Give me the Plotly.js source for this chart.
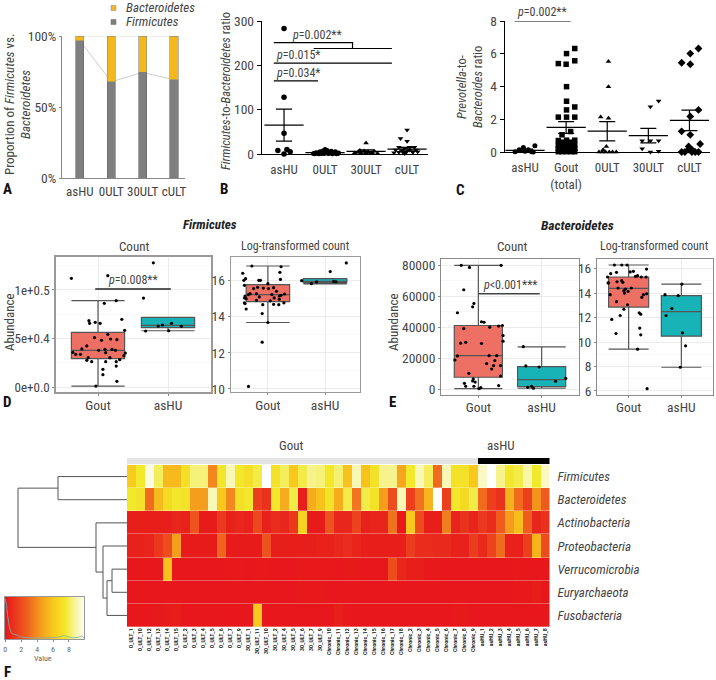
<!DOCTYPE html>
<html><head><meta charset="utf-8">
<script src="https://cdn.plot.ly/plotly-3.0.1.min.js"></script>
<style>html,body{margin:0;padding:0;background:#fff}</style></head>
<body><div id="chart" style="width:716px;height:680px"></div>
<script>
const FONT='"Roboto Condensed","Liberation Sans",sans-serif';
// Panel A
const phylaCats=['asHU','0ULT','30ULT','cULT'];
const firmicutesShare=[96.7,67.8,74.3,69.2];
const bacteroidetesShare=[3.3,32.2,25.7,30.8];
const topLine=[100,100,100,100];
// Panel B
const bCats=['asHU','0ULT','30ULT','cULT'];
const bMean=[65,3,6,11];
const bSem=[36,2,3.5,4];
const bAsHU_x=[0,0,0,-0.15,0.0,0.07,0.15];
const bAsHU_y=[283,128,47,8,0,10,5];
const b0_x=[0.72,0.78,0.82,0.88,0.92,0.95,1,1.02,1.05,1.1,1.15,1.2,1.25,1.3,1.33,0.75,0.85,0.98,1.08,1.18,1.28];
const b0_y=[1,3,2,5,1,7,10,4,8,2,6,3,5,1,2,0.5,0.5,1,1,0.5,0.5];
const b30_x=[2.0,1.72,1.8,1.88,1.95,2.05,2.12,2.2,2.28,1.85,2.0,2.15];
const b30_y=[25,2,4,1,7,5,2,6,1,8,2,3];
const bC_x=[3,2.84,3,2.8,3.18,3.06,2.94,2.72,3.22,2.88,3.06,2.8,2.9,2.98,3.14,3.26,2.68,2.94];
const bC_y=[54,35,29,15,15,15,13,9,9,9,9,4,4,4,4,5,3,1];
// Panel C
const cCats=['asHU','Gout<br>(total)','0ULT','30ULT','cULT'];
const cMean=[0.1,1.5,1.27,1.0,1.93];
const cSem=[0.07,0.36,0.59,0.44,0.63];
const cAsHU_x=[0.24,-0.04,-0.14,0.08,0,-0.24,0.16,0.2];
const cAsHU_y=[0.38,0.28,0.14,0.14,0.04,0.02,0.02,0];
const cGout_x=[1.21,1.01,0.81,1,1.21,1.01,1.01,1.01,1.21,0.81,1.01,1.21,0.9,1.11,0.81,0.9,1.01,1.12,1.21,0.81,0.9,1.01,1.12,1.21,0.81,0.9,1.01,1.12,1.21,0.81,0.9,1.01,1.12,1.21];
const cGout_y=[6.32,6.01,5.4,5.36,5.57,3.99,3.1,2.57,2.75,2.13,2.13,2.13,1.05,1.25,0.02,0.02,0.02,0.02,0.02,0.2,0.2,0.2,0.2,0.2,0.42,0.42,0.42,0.42,0.42,0.7,0.6,0.72,0.6,0.72];
const c0_x=[2.03,2.03,1.84,2.03,1.98,1.8,1.88,1.96,2.05,2.13,2.22,1.9];
const c0_y=[5.53,3.99,2.13,2.06,0.34,0,0,0,0,0,0,0.14];
const c30_x=[3.25,3.05,2.85,3.05,3.25,2.85,3.05,3.25];
const c30_y=[3.12,2.77,0.69,0.69,0.69,0.2,0,0.04];
const cC_x=[4.22,4.02,3.81,4.02,4.22,4.02,3.81,4.02,4.26,3.98,3.81,3.89,3.98,4.06,4.14,4.22,4.06];
const cC_y=[6.32,6.01,5.45,5.36,2.57,2.17,1.26,1.05,0.49,0.34,0,0,0.14,0.14,0,0,0];
// Panel D count
const dcGout_x=[-.38,.14,.09,.26,-.13,-.12,-.04,.03,.34,.38,.14,-.05,.05,.18,.27,-.16,-.23,-.36,-.32,-.25,.01,.1,.11,.2,.25,.39,.37,-.14,-.16,-.09,.11,.17,.26,.31,.26,.07,.07,.27,-.03];
const dcGout_y=[112000,114800,86200,89000,68400,65600,66700,65600,69800,58400,54300,50900,48100,49500,48800,42300,39200,35700,33700,33700,37800,38800,35400,38800,37800,35000,32300,30200,27500,26100,26100,30200,26100,28200,21600,18200,12700,5800,1000];
const dcHU_x=[.79,.65,.68,.86,.92,1.05,1.19,1.01];
const dcHU_y=[128000,91700,57700,62900,63900,65600,62500,58000];
// Panel D log
const dlGout_x=[-.28,.23,-.44,.21,.22,-.39,-.42,-.16,-.13,-.41,0,-.18,-.25,-.08,.01,.1,.15,-.31,-.2,-.4,-.41,-.34,-.15,.07,.11,.2,.29,.23,-.38,-.2,.2,.04,-.41,.28,-.4,-.09,.1,.19,-.38,-.1,0,-.1,-.34];
const dlGout_y=[16.81,16.77,16.41,16.46,16.07,16.11,16.02,16.02,16.02,15.74,15.83,15.63,15.56,15.59,15.56,15.61,15.41,15.28,15.28,15.15,15.04,15.23,15.1,15.23,15.04,15.15,15.26,15.19,15,14.91,14.97,14.88,14.77,14.77,14.73,14.67,14.69,14.67,14.43,14.18,13.68,12.59,10.14];
const dlHU_x=[1.37,1.09,.59,.76,.85,1.15,1.19];
const dlHU_y=[16.98,16.5,16,15.83,15.93,15.96,15.94];
// Panel E count
const ecGout_x=[-.27,-.14,.36,-.23,-.07,-.09,-.33,.05,.09,.18,.32,.38,-.23,.39,.39,-.28,-.2,.05,-.33,-.37,.17,.29,.26,.13,.24,.21,.35,-.15,.35,-.08,-.09,-.05,-.22,-.2,-.07,.32,.04,.01];
const ecGout_y=[79800,78500,79800,64100,55300,53100,49300,43500,43200,40000,40700,41100,39100,34600,31000,29700,30300,29500,21500,18900,21700,21700,18500,16600,15300,13100,15300,10300,8600,6700,5400,4700,3900,2000,2000,2400,1100,500];
const ecHU_x=[.71,.75,.96,1.22,1.38,.78,.84,.87];
const ecHU_y=[27500,15100,14400,5200,7100,1300,2000,700];
// Panel E log
const elGout_x=[-.27,-.13,-.03,.34,.09,-.4,-.34,-.23,.03,.13,.17,.24,.33,-.38,-.39,-.22,-.13,-.11,-.2,-.06,.05,-.09,-.01,-.08,-.35,.34,.25,.28,-.23,-.02,-.09,-.16,.2,.23,-.32,.21,-.24,.23,.17,.35];
const elGout_y=[16.3,16.3,16.3,15.97,15.78,15.32,15.59,15.7,15.73,15.37,15.43,15.32,15.32,14.85,14.83,14.93,15.02,14.88,14.42,14.33,14.42,14.2,14.14,14,13.87,13.95,13.65,13.87,13.3,13.05,12.69,12.17,12.39,12.28,11.85,11.14,10.7,10.59,9.42,6.19];
const elHU_x=[1.01,.69,.94,.82,.71,1.02,1.08,.98];
const elHU_y=[14.74,13.87,13.79,12.75,12.17,10.75,9.69,7.94];
// five-number summaries [low, q1, median, q3, high]
const dcBoxGout=[1000,29200,37800,56400,89000];
const dcBoxHU=[58000,61200,63600,71800,71800];
const dlBoxGout=[13.68,14.84,15.23,15.78,16.81];
const dlBoxHU=[15.82,15.89,15.96,16.11,16.11];
const ecBoxGout=[500,7800,21700,41100,79800];
const ecBoxHU=[700,1700,6300,14600,27300];
const elBoxGout=[9.42,12.86,14.39,15.32,16.3];
const elBoxHU=[7.94,10.48,12.48,13.79,14.74];
// Panel F
const samples=['0_ULT_1','0_ULT_10','0_ULT_12','0_ULT_13','0_ULT_14','0_ULT_15','0_ULT_2','0_ULT_3','0_ULT_4','0_ULT_5','0_ULT_6','0_ULT_7','0_ULT_9',
'30_ULT_1','30_ULT_11','30_ULT_10','30_ULT_2','30_ULT_4','30_ULT_5','30_ULT_6','30_ULT_7','30_ULT_9',
'Chronic_10','Chronic_11','Chronic_12','Chronic_13','Chronic_14','Chronic_15','Chronic_16','Chronic_17','Chronic_18',
'Chronic_2','Chronic_3','Chronic_4','Chronic_5','Chronic_6','Chronic_7','Chronic_8','Chronic_9',
'asHU_1','asHU_2','asHU_3','asHU_4','asHU_5','asHU_6','asHU_7','asHU_8'];
const phyla=['Firmicutes','Bacteroidetes','Actinobacteria','Proteobacteria','Verrucomicrobia','Euryarchaeota','Fusobacteria'];
const rowFirm=[6.2,7.5,9.6,8,5.5,5.5,7,8.3,8.3,3.8,7.3,9,7.4,7,7.8,10,7.2,8,6,7.8,8.5,8.3,7.4,8.2,5.8,9,5.8,7.2,8.5,8.5,4.8,7.5,9,8,3,9,7.2,7.2,6,9.2,10,8.5,7.4,7.8,8.8,7.5,9.2];
const rowBact=[7.5,7.2,3,5.5,6.8,7.4,7.2,4.5,4.5,9,6,3.8,7,7.4,1.5,1,7.4,5,7.8,.3,5,5.8,7.2,5,7.8,3.3,7.8,7.2,4.5,2,9,1.5,3.2,5.3,10,1.5,7.4,6.8,7.8,3,1.5,1,5.2,3,1.5,4.2,2.5];
const rowActi=[.3,.3,.3,.3,.3,.6,.4,2.2,.2,.2,1.3,.4,.6,.4,1.8,.4,.8,.6,1.2,6.5,.2,.2,2.2,.6,.6,1.6,.4,.5,.5,3.2,.1,6,2,.3,.3,3.6,.5,1,.5,1.3,.8,2.6,4.4,5.6,2.6,.6,1];
const rowProt=[.4,.4,.5,1.2,2,4.5,.2,.2,.2,.2,2.8,.2,.2,.2,.2,2.2,.3,.3,.3,.3,.3,.4,.4,.6,.8,.5,.3,.3,.3,.3,.3,1.4,.8,.8,.7,.7,.4,.4,1.4,.7,1.6,3,.4,.4,1.5,5.3,2];
const rowVerr=[.05,.05,.05,.05,5.7,.05,.05,.05,.05,.05,.05,.1,.1,.05,.1,.1,.05,.05,.05,.1,.1,.1,.1,.05,.1,.1,.05,.05,.05,2,.6,.3,.3,.1,.1,.05,.05,.05,.05,.05,.05,.05,.05,.1,.05,.05,.05];
const rowEury=[.05,.05,.05,.05,.05,.05,.05,.05,.05,.05,.05,.05,.05,.05,.05,.05,.05,.05,.05,.1,.1,.1,.05,.05,.05,.05,.05,.05,.05,.05,.05,.05,.05,.05,.05,.05,.05,.05,.05,.05,.05,.05,.05,.1,.1,.25,.05];
const rowFuso=[.05,.05,.05,.15,.2,.25,.05,.05,.05,.05,.05,.05,.05,.05,6,.05,.05,.05,.05,.05,.05,.05,.05,.3,.1,.05,.05,.05,.05,.05,.05,.05,.05,.05,.05,.05,.1,.1,.05,.05,.05,.05,.05,.05,.05,.05,.05];
const dendroH=[0,69,69,0,null,0,15,15,0,null,15,20,20,0,null,0,24,24,20,null,0,31,31,24,null,69,109,109,31];
const dendroRow=[0,0,1,1,null,4,4,5,5,null,4.5,4.5,6,6,null,3,3,5.25,5.25,null,2,2,4.125,4.125,null,.5,.5,3.06,3.06];
const rampValues=[0,.5,1,1.5,2,2.5,3,3.5,4,4.5,5,5.5,6,6.5,7,7.5,8,8.5,9,9.5,10];
const densityX=[0,.15,.3,.5,.7,.9,1.2,1.5,1.8,2.2,3,4,5,6,6.8,7.4,8,8.6,9.2,9.6,9.9];
const densityY=[.95,.8,.55,.3,.17,.12,.11,.09,.05,.04,.03,.02,.02,.03,.05,.08,.05,.03,.04,.07,.03];

const W=716,H=680;
const dx=(a,b)=>[a/W,b/W], dy=(a,b)=>[1-b/H,1-a/H];
const px=v=>v/W, py=v=>1-v/H;
const TXT='#444';
const HEAT=[[0,'#e7161b'],[.25,'#ef5a1e'],[.45,'#f59e1d'],[.6,'#f8c81c'],[.75,'#f2e92b'],[.87,'#f7f5a0'],[1,'#ffffff']];
const RED='#ee6f64',TEAL='#17b3b7',GREY='#7f7f7f',GOLD='#f5b81c';

function pts(x,y,xa,ya,sym,size){return {type:'scatter',mode:'markers',x,y,xaxis:xa,yaxis:ya,cliponaxis:false,showlegend:false,hoverinfo:'skip',marker:{symbol:sym,size,color:'#000'}};}
function meanSem(xs,m,s,xa,ya){return {type:'scatter',mode:'markers',x:xs,y:m,xaxis:xa,yaxis:ya,cliponaxis:false,showlegend:false,hoverinfo:'skip',
  marker:{symbol:'line-ew',size:28,line:{color:'#000',width:1.3},color:'#000'},
  error_y:{type:'data',array:s,symmetric:true,width:8,thickness:1.2,color:'#000'}};}
function box(sum,x,color,xa,ya){return {type:'box',x:[x],lowerfence:[sum[0]],q1:[sum[1]],median:[sum[2]],q3:[sum[3]],upperfence:[sum[4]],xaxis:xa,yaxis:ya,width:.76,whiskerwidth:1,
  fillcolor:color,line:{color:'#555',width:1.2},showlegend:false,hoverinfo:'skip',boxpoints:false};}
function seg(xs,ys,xa,ya,color,w){return {type:'scatter',mode:'lines',x:xs,y:ys,xaxis:xa,yaxis:ya,cliponaxis:false,showlegend:false,hoverinfo:'skip',line:{color:color||'#000',width:w||1.2}};}

const traces=[];
// A
traces.push(seg([0,1,2,3],firmicutesShare,'x','y','#cfcfcf',1));
traces.push(seg([0,1,2,3],topLine,'x','y','#dcdcdc',1));
traces.push({type:'bar',x:[0,1,2,3],y:firmicutesShare,xaxis:'x12',yaxis:'y12',width:.26,marker:{color:GREY,line:{color:'#666',width:.6}},showlegend:false,hoverinfo:'skip'});
traces.push({type:'bar',x:[0,1,2,3],y:bacteroidetesShare,xaxis:'x12',yaxis:'y12',width:.26,marker:{color:GOLD,line:{color:'#888',width:.6}},showlegend:false,hoverinfo:'skip'});
// B
traces.push(pts(bAsHU_x,bAsHU_y,'x2','y2','circle',5.5));
traces.push(pts(b0_x,b0_y,'x2','y2','circle',5));
traces.push(pts(b30_x,b30_y,'x2','y2','triangle-up',5));
traces.push(pts(bC_x,bC_y,'x2','y2','triangle-down',5));
traces.push(meanSem([0,1,2,3],bMean,bSem,'x2','y2'));
traces.push(seg([-.25,1.67,1.67],[251,251,238],'x2','y2'));
traces.push(seg([.72,2.63],[238,238],'x2','y2'));
traces.push(seg([-.25,2.63],[205,205],'x2','y2'));
traces.push(seg([-.25,.83],[165,165],'x2','y2'));
// C
traces.push(pts(cAsHU_x,cAsHU_y,'x3','y3','circle',5));
traces.push(pts(cGout_x,cGout_y,'x3','y3','square',5.5));
traces.push(pts(c0_x,c0_y,'x3','y3','triangle-up',5));
traces.push(pts(c30_x,c30_y,'x3','y3','triangle-down',5));
traces.push(pts(cC_x,cC_y,'x3','y3','diamond',6));
traces.push(meanSem([0,1,2,3,4],cMean,cSem,'x3','y3'));
traces.push(seg([-.25,1.11],[8,8],'x3','y3'));
// D, E
[[dcBoxGout,dcBoxHU,dcGout_x,dcGout_y,dcHU_x,dcHU_y,'x4','y4'],
 [dlBoxGout,dlBoxHU,dlGout_x,dlGout_y,dlHU_x,dlHU_y,'x5','y5'],
 [ecBoxGout,ecBoxHU,ecGout_x,ecGout_y,ecHU_x,ecHU_y,'x6','y6'],
 [elBoxGout,elBoxHU,elGout_x,elGout_y,elHU_x,elHU_y,'x7','y7']].forEach(p=>{
  traces.push(box(p[0],0,RED,p[6],p[7]));
  traces.push(box(p[1],1,TEAL,p[6],p[7]));
  traces.push(pts(p[2],p[3],p[6],p[7],'circle',3.2));
  traces.push(pts(p[4],p[5],p[6],p[7],'circle',3.2));
});
traces.push(seg([-.04,1.04],[101000,101000],'x4','y4','#222',1.5));
traces.push(seg([0,.97],[61500,61500],'x6','y6','#444',1.5));
// F
const idx=samples.map((s,i)=>i);
traces.push({type:'heatmap',x:idx,y:[0,1,2,3,4,5,6],z:[rowFirm,rowBact,rowActi,rowProt,rowVerr,rowEury,rowFuso],xaxis:'x8',yaxis:'y8',zmin:0,zmax:10,colorscale:HEAT,showscale:false,ygap:.3,hoverinfo:'skip'});
traces.push({type:'heatmap',x:idx,y:[0],z:[samples.map(s=>s.startsWith('asHU')?1:0)],xaxis:'x9',yaxis:'y9',zmin:0,zmax:1,colorscale:[[0,'#e3e3e3'],[1,'#000']],showscale:false,hoverinfo:'skip'});
traces.push(seg(dendroH,dendroRow,'x10','y10','#555',1));
traces[traces.length-1].connectgaps=false;
traces.push({type:'heatmap',x:rampValues,y:[0,1],z:[rampValues,rampValues],xaxis:'x11',yaxis:'y11',zmin:0,zmax:10,colorscale:HEAT,showscale:false,zsmooth:'best',hoverinfo:'skip'});
traces.push(seg(densityX,densityY,'x11','y11','#7fb0b0',.8));

const tf=(s,c)=>({family:FONT,size:s,color:c||TXT});
const base={zeroline:false,showgrid:false,fixedrange:true};
const layout={width:W,height:H,autosize:false,margin:{l:0,r:0,t:0,b:0},paper_bgcolor:'#fff',plot_bgcolor:'rgba(0,0,0,0)',barmode:'stack',showlegend:false,font:{family:FONT,color:TXT},
 // A
 xaxis:{...base,domain:dx(62,185),range:[-.57,3.35],tickvals:[0,1,2,3],ticktext:phylaCats,tickangle:0,tickfont:tf(13),showline:true,linecolor:'#888',linewidth:1,ticks:'',ticklabelstandoff:1},
 yaxis:{...base,domain:dy(36,178),range:[0,100],tickvals:[0,50,100],ticktext:['0%','50%','100%'],tickfont:tf(13.5),showline:true,linecolor:'#888',linewidth:1,ticks:'outside',ticklen:2,tickcolor:'#888',anchor:'x'},
 xaxis12:{...base,domain:dx(62,185),range:[-.57,3.35],overlaying:'x',visible:false,anchor:'y12'},
 yaxis12:{...base,domain:dy(36,178),range:[0,100],overlaying:'y',visible:false,anchor:'x12'},
 // B
 xaxis2:{...base,domain:dx(262,428),range:[-.537,3.51],tickvals:[0,1,2,3],ticktext:bCats,tickangle:0,tickfont:tf(13),showline:true,linecolor:'#000',linewidth:1.3,ticks:'',anchor:'y2',ticklabelstandoff:3},
 yaxis2:{...base,domain:dy(21,154),range:[0,300],tickvals:[0,100,200,300],tickfont:tf(13.5),showline:true,linecolor:'#000',linewidth:1.3,ticks:'outside',ticklen:4,tickcolor:'#000',anchor:'x2'},
 // C
 xaxis3:{...base,domain:dx(505,710),range:[-.487,4.5],tickvals:[0,1,2,3,4],ticktext:cCats,tickangle:0,tickfont:tf(13),showline:true,linecolor:'#000',linewidth:1.3,ticks:'',anchor:'y3',ticklabelstandoff:3},
 yaxis3:{...base,domain:dy(21,152),range:[0,8],tickvals:[0,2,4,6,8],tickfont:tf(13.5),showline:true,linecolor:'#000',linewidth:1.3,ticks:'outside',ticklen:4,tickcolor:'#000',anchor:'x3'},
};
function ggAxes(n,x0,x1,y0,y1,xr,yr,tv,tt,lc,lw,minorVals){
 layout['xaxis'+n]={...base,domain:dx(x0,x1),range:xr,tickvals:[0,1],ticktext:['Gout','asHU'],tickangle:0,tickfont:tf(13.5),showgrid:true,gridcolor:'#ececec',gridwidth:1,showline:true,mirror:true,linecolor:lc,linewidth:lw,ticks:'outside',ticklen:2,tickcolor:'#888',anchor:'y'+n,ticklabelstandoff:-2};
 layout['yaxis'+n]={...base,domain:dy(y0,y1),range:yr,tickvals:tv,ticktext:tt,tickfont:tf(13.5),showgrid:true,gridcolor:'#ececec',gridwidth:1,showline:true,mirror:true,linecolor:lc,linewidth:lw,ticks:'outside',ticklen:2,tickcolor:'#888',anchor:'x'+n,
   minor:{tickvals:minorVals,showgrid:true,gridcolor:'#f4f4f4',gridwidth:.6,ticks:''}};
}
ggAxes(4,56,211,257,392,[-.6,1.614],[-5155,134000],[0,50000,100000],['0e+0.0','5e+0.4','1e+0.5'],'#9a9a9a',1.6,[25000,75000,125000]);
layout.yaxis4.tickfont=tf(13);
ggAxes(5,231,360,257,392,[-.645,1.61],[9.83,17.31],[10,12,14,16],['10','12','14','16'],'#9a9a9a',1.4,[11,13,15,17]);
ggAxes(6,441,579,259,395,[-.59,1.59],[-3635,83900],[0,20000,40000,60000,80000],['0','20000','40000','60000','80000'],'#8a8a8a',1,[10000,30000,50000,70000]);
ggAxes(7,597,713,259,395,[-.6,1.6],[5.67,16.79],[6,8,10,12,14,16],['6','8','10','12','14','16'],'#8a8a8a',1,[7,9,11,13,15]);
// F axes
Object.assign(layout,{
 xaxis8:{...base,domain:dx(127,549.5),range:[-.5,46.5],tickvals:idx,ticktext:samples,tickangle:-90,tickfont:{family:FONT,size:6,color:'#111',weight:600},ticks:'',anchor:'y8',showline:false,ticklabelstandoff:-1},
 yaxis8:{...base,domain:dy(465,627),range:[6.5,-.5],side:'right',tickvals:[0,1,2,3,4,5,6],ticktext:phyla.map(p=>'<i>'+p+'</i>'),tickfont:tf(13),ticks:'',anchor:'x8',ticklabelstandoff:7},
 xaxis9:{...base,domain:dx(127,549.5),range:[-.5,46.5],visible:false,anchor:'y9'},
 yaxis9:{...base,domain:dy(458,464),range:[-.5,.5],visible:false,anchor:'x9'},
 xaxis10:{...base,domain:dx(0,127),range:[127,0],visible:false,anchor:'y10'},
 yaxis10:{...base,domain:dy(465,627),range:[6.5,-.5],visible:false,anchor:'x10'},
 xaxis11:{...base,domain:dx(5,84),range:[-.04,9.9],tickvals:[0,2,4,6,8],tickfont:{family:FONT,size:8,color:'#666'},showline:true,mirror:true,linecolor:'#999',linewidth:1,ticks:'outside',ticklen:2,tickcolor:'#888',anchor:'y11'},
 yaxis11:{...base,domain:dy(597,639),range:[0,1],visible:true,showticklabels:false,ticks:'',showline:true,mirror:true,linecolor:'#999',linewidth:1,anchor:'x11'},
});
function note(text,x,y,opt){return Object.assign({xref:'paper',yref:'paper',x:px(x),y:py(y),text,showarrow:false,xanchor:'center',yanchor:'middle',font:tf(13)},opt||{});}
const P='<i>p</i>';
layout.annotations=[
 note('<i>Bacteroidetes</i>',124,8,{xanchor:'left',font:tf(13)}),
 note('<i>Firmicutes</i>',124,22,{xanchor:'left',font:tf(13)}),
 note('Proportion of <i>Firmicutes</i> vs.',9,105,{textangle:-90,font:tf(13)}),
 note('<i>Bacteroidetes</i>',25,105,{textangle:-90,font:tf(13)}),
 note('<i>Firmicutes</i>-to-<i>Bacteroidetes</i> ratio',226,91,{textangle:-90,font:tf(12.5)}),
 note('<i>Prevotella</i>-to-',461,87,{textangle:-90,font:tf(12.5)}),
 note('<i>Bacteroides</i> ratio',477,87,{textangle:-90,font:tf(12.5)}),
 note(P+'=0.002**',317,35,{font:tf(12)}),
 note(P+'=0.015*',298,55,{font:tf(12)}),
 note(P+'=0.034*',298,73,{font:tf(12)}),
 note(P+'=0.002**',542,12,{font:tf(12)}),
 note(P+'=0.008**',133,280,{font:tf(12)}),
 note(P+'&lt;0.001***',510,285,{font:tf(12)}),
 note('<b><i>Firmicutes</i></b>',210,225,{font:tf(13,'#222')}),
 note('<b><i>Bacteroidetes</i></b>',577,225,{font:tf(13.5,'#222')}),
 note('Count',134,246,{font:tf(13)}),
 note('Log-transformed count',295,246,{font:tf(12)}),
 note('Count',512,246,{font:tf(13)}),
 note('Log-transformed count',654,246,{font:tf(12)}),
 note('Abundance',9,322,{textangle:-90,font:tf(13)}),
 note('Abundance',393,322,{textangle:-90,font:tf(13)}),
 note('Gout',291,445,{font:tf(13)}),
 note('asHU',501,445,{font:tf(13)}),
 note('Value',43,658,{font:{family:FONT,size:8,color:'#666'}}),
 note('<b>A</b>',7,189,{font:tf(15,'#111')}),
 note('<b>B</b>',224,189,{font:tf(15,'#111')}),
 note('<b>C</b>',460,190,{font:tf(15,'#111')}),
 note('<b>D</b>',7,402,{font:tf(15,'#111')}),
 note('<b>E</b>',392,402,{font:tf(15,'#111')}),
 note('<b>F</b>',7,672,{font:tf(15,'#111')}),
];
layout.shapes=[
 {type:'rect',xref:'paper',yref:'paper',x0:px(111),x1:px(116),y0:py(5.5),y1:py(10.5),fillcolor:GOLD,line:{color:'#888',width:.5}},
 {type:'rect',xref:'paper',yref:'paper',x0:px(111),x1:px(116),y0:py(19.5),y1:py(24.5),fillcolor:GREY,line:{color:'#666',width:.5}},
];
Plotly.newPlot('chart',traces,layout,{displayModeBar:false,staticPlot:true});
</script></body></html>
